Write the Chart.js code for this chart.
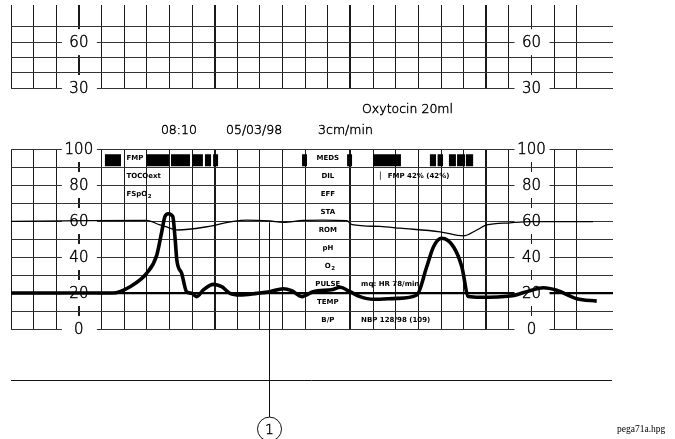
<!DOCTYPE html>
<html>
<head>
<meta charset="utf-8">
<script src="https://cdn.jsdelivr.net/npm/chart.js@4.4.1/dist/chart.umd.min.js"></script>
<style>
  html, body { margin: 0; background: #fff; }
  #wrap { position: relative; width: 675px; height: 439px; }
  #wrap canvas { position: absolute; left: 0; top: 0; }
</style>
</head>
<body>
<div id="wrap">
  <canvas id="strip" width="675" height="439"></canvas>
  <canvas id="main" width="675" height="439"></canvas>
</div>
<script>
// x axis is time in seconds, one small square = 10 s
const stripTicks = [60, 30];
const mainTicks = [100, 80, 60, 40, 20, 0];
const labelAxes = [30, 230];

// heavy trace
const heavyTime = [0, 35, 45, 52.6, 60, 64.4, 66.6, 68, 69.5, 71.5, 72.5, 73.3, 75.4, 77.6, 79.8, 82, 85, 89.4, 93.1, 96.8, 101.2, 108.6, 114.4, 120.3, 124, 128.5, 133.5, 142.3, 145.4, 149.8, 154.2, 160.1, 170.4, 179.3, 183.7, 186.7, 190.3, 195.5, 199.2, 202.1, 207.2, 220.5, 229.3, 235.2, 241.1, 250, 258.8];
const heavyValue = [20, 20, 20, 23.5, 31, 41, 54, 62.4, 64, 62.4, 50.4, 38, 31, 20.7, 19.8, 18, 21.7, 24.8, 23.5, 19.8, 18.9, 19.8, 20.7, 22.4, 21.3, 18, 20.7, 22, 23.2, 20.7, 18, 16.5, 17, 18.9, 34.6, 45.7, 50.4, 45.7, 34.6, 18, 17.6, 18.3, 21.3, 22.9, 21.5, 16.8, 15.5];

// thin trace
const thinTime = [0, 35, 60, 65.8, 68, 73.8, 86.5, 98.2, 104.2, 114.4, 120.2, 129, 137.9, 148.3, 150.7, 163, 171.9, 189.6, 199.9, 205.8, 210.2, 220.5, 229.3, 257.2];
const thinValue = [59.8, 60.2, 60.3, 57.8, 57, 55, 56.8, 59.8, 60.5, 60, 59.3, 60.3, 60.5, 60.2, 58, 57, 56, 54, 51.7, 55, 57.8, 59, 59.6, 59.6];

// FMP / event marks in the top row
const fmpStart = [41.5, 59.7, 70.7, 80, 85.7, 89.3, 128.6, 148.5, 160, 185.1, 188.5, 193.5, 197.1, 201];
const fmpEnd = [48.6, 69.8, 79.1, 84.8, 88.4, 91.5, 130.8, 150.7, 172.3, 187.8, 190.9, 196.6, 200.6, 204.2];

const rowLabels = ['MEDS', 'DIL', 'EFF', 'STA', 'ROM', 'pH', 'O2', 'PULSE', 'TEMP', 'B/P'];

const markerTime = 113.8;

// text placed on the strip, in axis units
const headerNotes = [
  { text: 'Oxytocin 20ml', x: 155.1, y: 121.7, align: 'left' },
  { text: '08:10', x: 74.2, y: 110, align: 'center' },
  { text: '05/03/98', x: 107.4, y: 110, align: 'center' },
  { text: '3cm/min', x: 135.7, y: 110, align: 'left' }
];
const smallNotes = [
  { text: 'FMP', x: 51, y: 95 },
  { text: 'TOCOext', x: 51, y: 85 },
  { text: 'FSpO', sub: '2', x: 51, y: 75 },
  { text: '\u258F FMP 42% (42%)', x: 163, y: 85 },
  { text: 'mq: HR 78/min', x: 154.7, y: 25 },
  { text: 'NBP 128/98 (109)', x: 154.7, y: 5 }
];

const heavyPoints = heavyTime.map((t, i) => ({ x: t, y: heavyValue[i] }));
const thinPoints = thinTime.map((t, i) => ({ x: t, y: thinValue[i] }));
const fmpPoints = [];
fmpStart.forEach((s, i) => {
  fmpPoints.push({ x: s, y: 93.8 }, { x: fmpEnd[i], y: 93.8 }, { x: fmpEnd[i], y: null });
});

function xAxis(skipColumn) {
  return {
    type: 'linear', min: 0, max: 266,
    ticks: { display: false, stepSize: 10, maxTicksLimit: 60 },
    border: { display: false },
    grid: {
      drawTicks: false,
      color: (c) => {
        const v = c.tick.value;
        if (v % 10 !== 0 || v > 260) return 'rgba(0,0,0,0)';
        if (skipColumn && v === 140) return 'rgba(0,0,0,0)';
        return '#1a1a1a';
      },
      lineWidth: (c) => (c.tick.value % 60 === 30 ? 2 : 1)
    }
  };
}

function drawText(ctx, note, xs, ys) {
  const px = xs.getPixelForValue(note.x);
  const py = ys.getPixelForValue(note.y);
  ctx.fillText(note.text, px, py);
  if (note.sub) {
    const w = ctx.textAlign === 'center' ? ctx.measureText(note.text).width / 2 : ctx.measureText(note.text).width;
    const f = ctx.font;
    const a = ctx.textAlign;
    ctx.font = f.replace(/[\d.]+px/, '5.5px');
    ctx.textAlign = 'left';
    ctx.fillText(note.sub, px + w + 0.5, py + 2.5);
    ctx.font = f;
    ctx.textAlign = a;
  }
}

// thin plotter style lettering
function thinText(ctx, text, x, y) {
  ctx.fillText(text, x, y);
  ctx.strokeText(text, x, y);
}

const stripPlugin = {
  id: 'strip',
  beforeDatasetsDraw(chart, args, opts) {
    const ctx = chart.ctx, xs = chart.scales.x, ys = chart.scales.y;
    ctx.save();
    ctx.strokeStyle = '#000';
    ctx.lineWidth = 0.45;
    // scale labels break the grid lines
    ctx.font = '200 15px "DejaVu Sans"';
    ctx.textAlign = 'center';
    ctx.textBaseline = 'middle';
    labelAxes.forEach((a) => {
      const px = xs.getPixelForValue(a);
      opts.ticks.forEach((v) => {
        const py = ys.getPixelForValue(v);
        ctx.fillStyle = '#fff';
        ctx.fillRect(px - 17, py - 13, 35, 26);
        ctx.fillStyle = '#000';
        thinText(ctx, String(v), px, py + 1);
      });
    });
    if (opts.main) {
      ctx.font = '200 12.5px "DejaVu Sans"';
      headerNotes.forEach((n) => {
        ctx.textAlign = n.align;
        thinText(ctx, n.text, xs.getPixelForValue(n.x), ys.getPixelForValue(n.y));
      });
      // row names in the middle column
      ctx.font = 'bold 7px "DejaVu Sans"';
      ctx.textAlign = 'center';
      ctx.fillStyle = '#000';
      rowLabels.forEach((r, i) => {
        const note = { text: r, x: 140, y: 95 - i * 10 };
        if (r === 'O2') { note.text = 'O'; note.sub = '2'; }
        drawText(ctx, note, xs, ys);
      });
      ctx.textAlign = 'left';
      smallNotes.forEach((n) => drawText(ctx, n, xs, ys));
    }
    ctx.restore();
  },
  afterDatasetsDraw(chart, args, opts) {
    if (!opts.main) return;
    const ctx = chart.ctx, xs = chart.scales.x, ys = chart.scales.y;
    ctx.save();
    ctx.strokeStyle = '#111';
    ctx.lineWidth = 1;
    // lower rule
    const ry = Math.round(ys.getPixelForValue(-28.3)) + 0.5;
    ctx.beginPath();
    ctx.moveTo(xs.getPixelForValue(0), ry);
    ctx.lineTo(xs.getPixelForValue(265.5), ry);
    ctx.stroke();
    // event marker with circled number
    const mx = Math.round(xs.getPixelForValue(markerTime)) + 0.5;
    const cy = ys.getPixelForValue(-55.6);
    const r = 12;
    ctx.beginPath();
    ctx.moveTo(mx, ys.getPixelForValue(59.3));
    ctx.lineTo(mx, cy - r);
    ctx.stroke();
    ctx.beginPath();
    ctx.arc(mx, cy, r, 0, Math.PI * 2);
    ctx.stroke();
    ctx.fillStyle = '#000';
    ctx.strokeStyle = '#000';
    ctx.lineWidth = 0.45;
    ctx.font = '200 14px "DejaVu Sans"';
    ctx.textAlign = 'center';
    ctx.textBaseline = 'middle';
    thinText(ctx, '1', mx, cy + 1);
    ctx.font = '9.5px "Liberation Serif"';
    ctx.textAlign = 'left';
    ctx.fillText('pega71a.hpg', xs.getPixelForValue(267.8), cy);
    ctx.restore();
  }
};

const common = {
  responsive: false,
  animation: false,
  devicePixelRatio: 1,
  events: []
};

// top strip
new Chart(document.getElementById('strip'), {
  type: 'line',
  data: { datasets: [] },
  options: Object.assign({}, common, {
    layout: { padding: { left: 11, right: 62, top: 5, bottom: 351 } },
    plugins: { legend: { display: false }, tooltip: { enabled: false }, strip: { ticks: stripTicks, main: false } },
    scales: {
      x: xAxis(false),
      y: {
        type: 'linear', min: 30, max: 84.3,
        ticks: { display: false, stepSize: 10 },
        border: { display: false },
        grid: {
          drawTicks: false,
          color: (c) => (c.tick.value <= 70 ? '#333' : 'rgba(0,0,0,0)')
        }
      }
    }
  }),
  plugins: [stripPlugin]
});

// main panel
new Chart(document.getElementById('main'), {
  type: 'line',
  data: {
    datasets: [
      { data: heavyPoints, borderColor: '#000', borderWidth: 3.6, pointRadius: 0, cubicInterpolationMode: 'monotone', fill: false },
      { data: thinPoints, borderColor: '#000', borderWidth: 1.3, pointRadius: 0, cubicInterpolationMode: 'monotone', fill: false },
      { data: fmpPoints, borderColor: '#000', borderWidth: 12, borderCapStyle: 'butt', pointRadius: 0, tension: 0, spanGaps: false, fill: false }
    ]
  },
  options: Object.assign({}, common, {
    layout: { padding: { left: 11, right: 62, top: 149, bottom: 110 } },
    plugins: { legend: { display: false }, tooltip: { enabled: false }, strip: { ticks: mainTicks, main: true } },
    scales: {
      x: xAxis(true),
      y: {
        type: 'linear', min: 0, max: 100,
        ticks: { display: false, stepSize: 10 },
        border: { display: false },
        grid: {
          drawTicks: false,
          color: (c) => (c.tick.value === 20 ? '#000' : '#333'),
          lineWidth: (c) => (c.tick.value === 20 ? 2.2 : 1)
        }
      }
    }
  }),
  plugins: [stripPlugin]
});
</script>
</body>
</html>
